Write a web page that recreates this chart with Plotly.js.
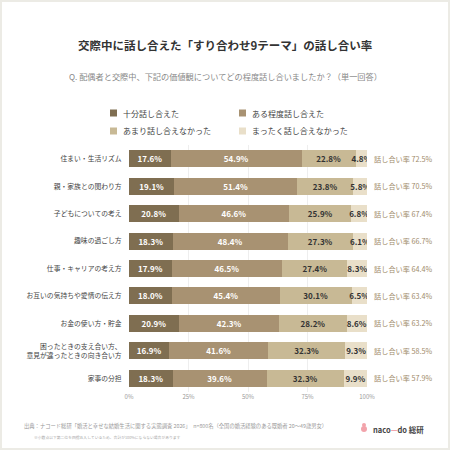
<!DOCTYPE html>
<html><head><meta charset="utf-8">
<script src="https://cdn.plot.ly/plotly-3.0.1.min.js"></script>
<style>
html,body{margin:0;padding:0;background:#ecebe5;width:450px;height:450px;overflow:hidden;}
#chart{position:absolute;left:2px;top:2px;width:446px;height:446px;}
</style></head>
<body><div id="chart"></div>
<script>
const categories = ["住まい・生活リズム","親・家族との関わり方","子どもについての考え","趣味の過ごし方","仕事・キャリアの考え方","お互いの気持ちや愛情の伝え方","お金の使い方・貯金","困ったときの支え合い方、<br>意見が違ったときの向き合い方","家事の分担"];
const seriesNames = ["十分話し合えた","ある程度話し合えた","あまり話し合えなかった","まったく話し合えなかった"];
const s1 = [17.6,19.1,20.8,18.3,17.9,18.0,20.9,16.9,18.3];
const s2 = [54.9,51.4,46.6,48.4,46.5,45.4,42.3,41.6,39.6];
const s3 = [22.8,23.8,25.9,27.3,27.4,30.1,28.2,32.3,32.3];
const s4 = [4.8,5.8,6.8,6.1,8.3,6.5,8.6,9.3,9.9];
const rate = [72.5,70.5,67.4,66.7,64.4,63.4,63.2,58.5,57.9];
const xTicks = [0,25,50,75,100];
const xTickLabels = ["0%","25%","50%","75%","100%"];

const colors = ["#7f6e51","#a89272","#c8b995","#e9dfc9"];
const textColors = ["#ffffff","#ffffff","#333333","#333333"];
const font = "Noto Sans CJK JP, Noto Sans, sans-serif";

const series = [s1,s2,s3,s4];
const traces = series.map((vals,i)=>({
  type:"bar", orientation:"h", name:seriesNames[i],
  y:categories, x:vals,
  marker:{color:colors[i], line:{width:0}},
  text:vals.map(v=>v.toFixed(1)+"%"),
  textposition:"inside", insidetextanchor:"middle", constraintext:"none", textangle:0,
  textfont:{family:font, size:8, color:textColors[i], weight:"bold"},
  showlegend:false, hoverinfo:"skip"
}));

const annotations = [];
const shapes = [];
categories.forEach((c,i)=>{
  annotations.push({x:100, y:c, xref:"x", yref:"y", xanchor:"left", xshift:5, showarrow:false,
    text:"話し合い率 "+rate[i].toFixed(1)+"%", font:{family:font,size:7.2,color:"#a08b6a"}});
});
const px = x => (x-129)/238;
const py = y => (392-y)/247;
annotations.push({x:px(225), y:py(45), xref:"paper", yref:"paper", showarrow:false, xanchor:"center", yanchor:"middle",
  text:"<b>交際中に話し合えた「すり合わせ9テーマ」の話し合い率</b>", font:{family:font,size:11.5,color:"#333"}});
annotations.push({x:px(225), y:py(76), xref:"paper", yref:"paper", showarrow:false, xanchor:"center", yanchor:"middle",
  text:"Q. 配偶者と交際中、下記の価値観についてどの程度話し合いましたか？（単一回答）", font:{family:font,size:8.2,color:"#888888"}});
const legPos = [[110,113],[239,113],[110,131],[239,131]];
seriesNames.forEach((n,i)=>{
  const [lx,ly]=legPos[i];
  shapes.push({type:"rect", xref:"paper", yref:"paper", x0:px(lx), x1:px(lx+7), y0:py(ly+3.5), y1:py(ly-3.5), fillcolor:colors[i], line:{width:0}});
  annotations.push({x:px(lx+11), y:py(ly), xref:"paper", yref:"paper", showarrow:false, xanchor:"left", yanchor:"middle",
    text:n, font:{family:font,size:8,color:"#444"}});
});
annotations.push({x:px(22), y:py(426), xref:"paper", yref:"paper", showarrow:false, xanchor:"left", yanchor:"middle",
  text:"出典：ナコード総研「婚活と幸せな結婚生活に関する実態調査 2026」　n=800名（全国の婚活経験のある既婚者 20～49歳男女）", font:{family:font,size:5.3,color:"#999"}});
annotations.push({x:px(32), y:py(437), xref:"paper", yref:"paper", showarrow:false, xanchor:"left", yanchor:"middle",
  text:"※小数点以下第二位を四捨五入しているため、合計が100%にならない場合があります", font:{family:font,size:3.8,color:"#aaa"}});
shapes.push({type:"circle", xref:"paper", yref:"paper", x0:px(361), x1:px(367), y0:py(432), y1:py(426), fillcolor:"#f2a3ab", line:{width:0}});
shapes.push({type:"circle", xref:"paper", yref:"paper", x0:px(362), x1:px(366), y0:py(427), y1:py(423), fillcolor:"#f2a3ab", line:{width:0}});
annotations.push({x:px(371), y:py(429), xref:"paper", yref:"paper", showarrow:false, xanchor:"left", yanchor:"middle",
  text:"<b>naco<span style='color:#ee8d99'>—</span>do 総研</b>", font:{family:font,size:7.5,color:"#444"}});

const layout = {
  width:446, height:446,
  margin:{l:127, r:81, t:143, b:56},
  paper_bgcolor:"#ffffff", plot_bgcolor:"#ffffff",
  barmode:"stack", bargap:0.38,
  font:{family:font},
  xaxis:{range:[0,100], tickvals:xTicks, ticktext:xTickLabels, showgrid:true, gridcolor:"#eeeeee", gridwidth:1,
    zeroline:false, showline:false, ticks:"", tickfont:{family:font,size:6,color:"#999"}, fixedrange:true},
  yaxis:{autorange:"reversed", showgrid:false, zeroline:false, showline:false, ticks:"outside", ticklen:5, tickcolor:"rgba(0,0,0,0)",
    tickfont:{family:font,size:6.8,color:"#444"}, fixedrange:true},
  annotations, shapes, showlegend:false
};
Plotly.newPlot("chart", traces, layout, {displayModeBar:false, staticPlot:true});
</script></body></html>
